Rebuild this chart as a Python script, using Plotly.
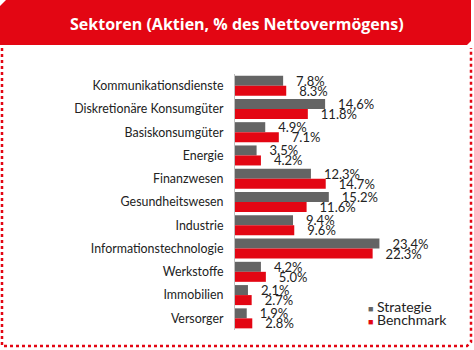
import plotly.graph_objects as go

categories = ["Kommunikationsdienste", "Diskretionäre Konsumgüter", "Basiskonsumgüter",
              "Energie", "Finanzwesen", "Gesundheitswesen", "Industrie",
              "Informationstechnologie", "Werkstoffe", "Immobilien", "Versorger"]
strategie = [7.8, 14.6, 4.9, 3.5, 12.3, 15.2, 9.4, 23.4, 4.2, 2.1, 1.9]
benchmark = [8.3, 11.8, 7.1, 4.2, 14.7, 11.6, 9.6, 22.3, 5.0, 2.7, 2.8]
series_names = ["Strategie", "Benchmark"]
title_text = "Sektoren (Aktien, % des Nettovermögens)"

GRAY = "#646464"
RED = "#E30613"
W, H = 474, 350
L, R, T, B = 235, 60, 74, 20
PW, PH = W - L - R, H - T - B
FONT = "Lato"


def px(x):
    return (x - L) / PW


def py(y):
    return 1 - (y - T) / PH


def lab(v):
    return "\u00a0\u00a0\u00a0" + f"{v:.1f}%"


fig = go.Figure()
for name, vals, col in [(series_names[0], strategie, GRAY), (series_names[1], benchmark, RED)]:
    fig.add_trace(go.Bar(
        y=categories, x=vals, name=name, orientation="h",
        marker=dict(color=col, line=dict(width=0)),
        text=[lab(v) for v in vals], textposition="outside",
        constraintext="none", cliponaxis=False,
        textfont=dict(family=FONT, size=13, color="#222"),
        showlegend=False,
    ))

shapes = []
# header band
hx = [(0, 6), (6, 0), (471, 0), (471, 41), (467, 45), (0, 45)]
path = "M " + " L ".join(f"{px(a):.5f},{py(b):.5f}" for a, b in hx) + " Z"
shapes.append(dict(type="path", xref="paper", yref="paper", path=path,
                   fillcolor=RED, line=dict(width=0), layer="below"))
# dotted border
bx = [(2, 48), (2, 346), (467, 346), (471, 342), (471, 48)]
path2 = "M " + " L ".join(f"{px(a):.5f},{py(b):.5f}" for a, b in bx)
shapes.append(dict(type="path", xref="paper", yref="paper", path=path2,
                   line=dict(color=RED, width=2.5, dash="dot"), layer="below"))

annotations = [
    dict(text=title_text, x=px(237), y=py(24), xref="paper", yref="paper",
         showarrow=False, xanchor="center", yanchor="middle",
         font=dict(family="Open Sans", size=16, color="white", weight="bold")),
]
for i, (name, col) in enumerate([(series_names[0], GRAY), (series_names[1], RED)]):
    annotations.append(dict(
        text=f"<span style='color:{col};font-size:9px'>■</span> {name}",
        x=px(366), y=py(306 + 13 * i), xref="paper", yref="paper",
        showarrow=False, xanchor="left", yanchor="middle",
        font=dict(family=FONT, size=14, color="#222")))

fig.update_layout(
    width=W, height=H, margin=dict(l=L, r=R, t=T, b=B),
    paper_bgcolor="white", plot_bgcolor="white",
    barmode="group", bargap=0.14, bargroupgap=0,
    shapes=shapes, annotations=annotations,
    xaxis=dict(range=[0, 29], visible=False, fixedrange=True),
    yaxis=dict(autorange="reversed", showline=True, linecolor="#bfbfbf", linewidth=1,
               ticks="", showgrid=False, ticklabelstandoff=8,
               tickfont=dict(family=FONT, size=12.4, color="#222")),
)
fig.write_html("out.html")
